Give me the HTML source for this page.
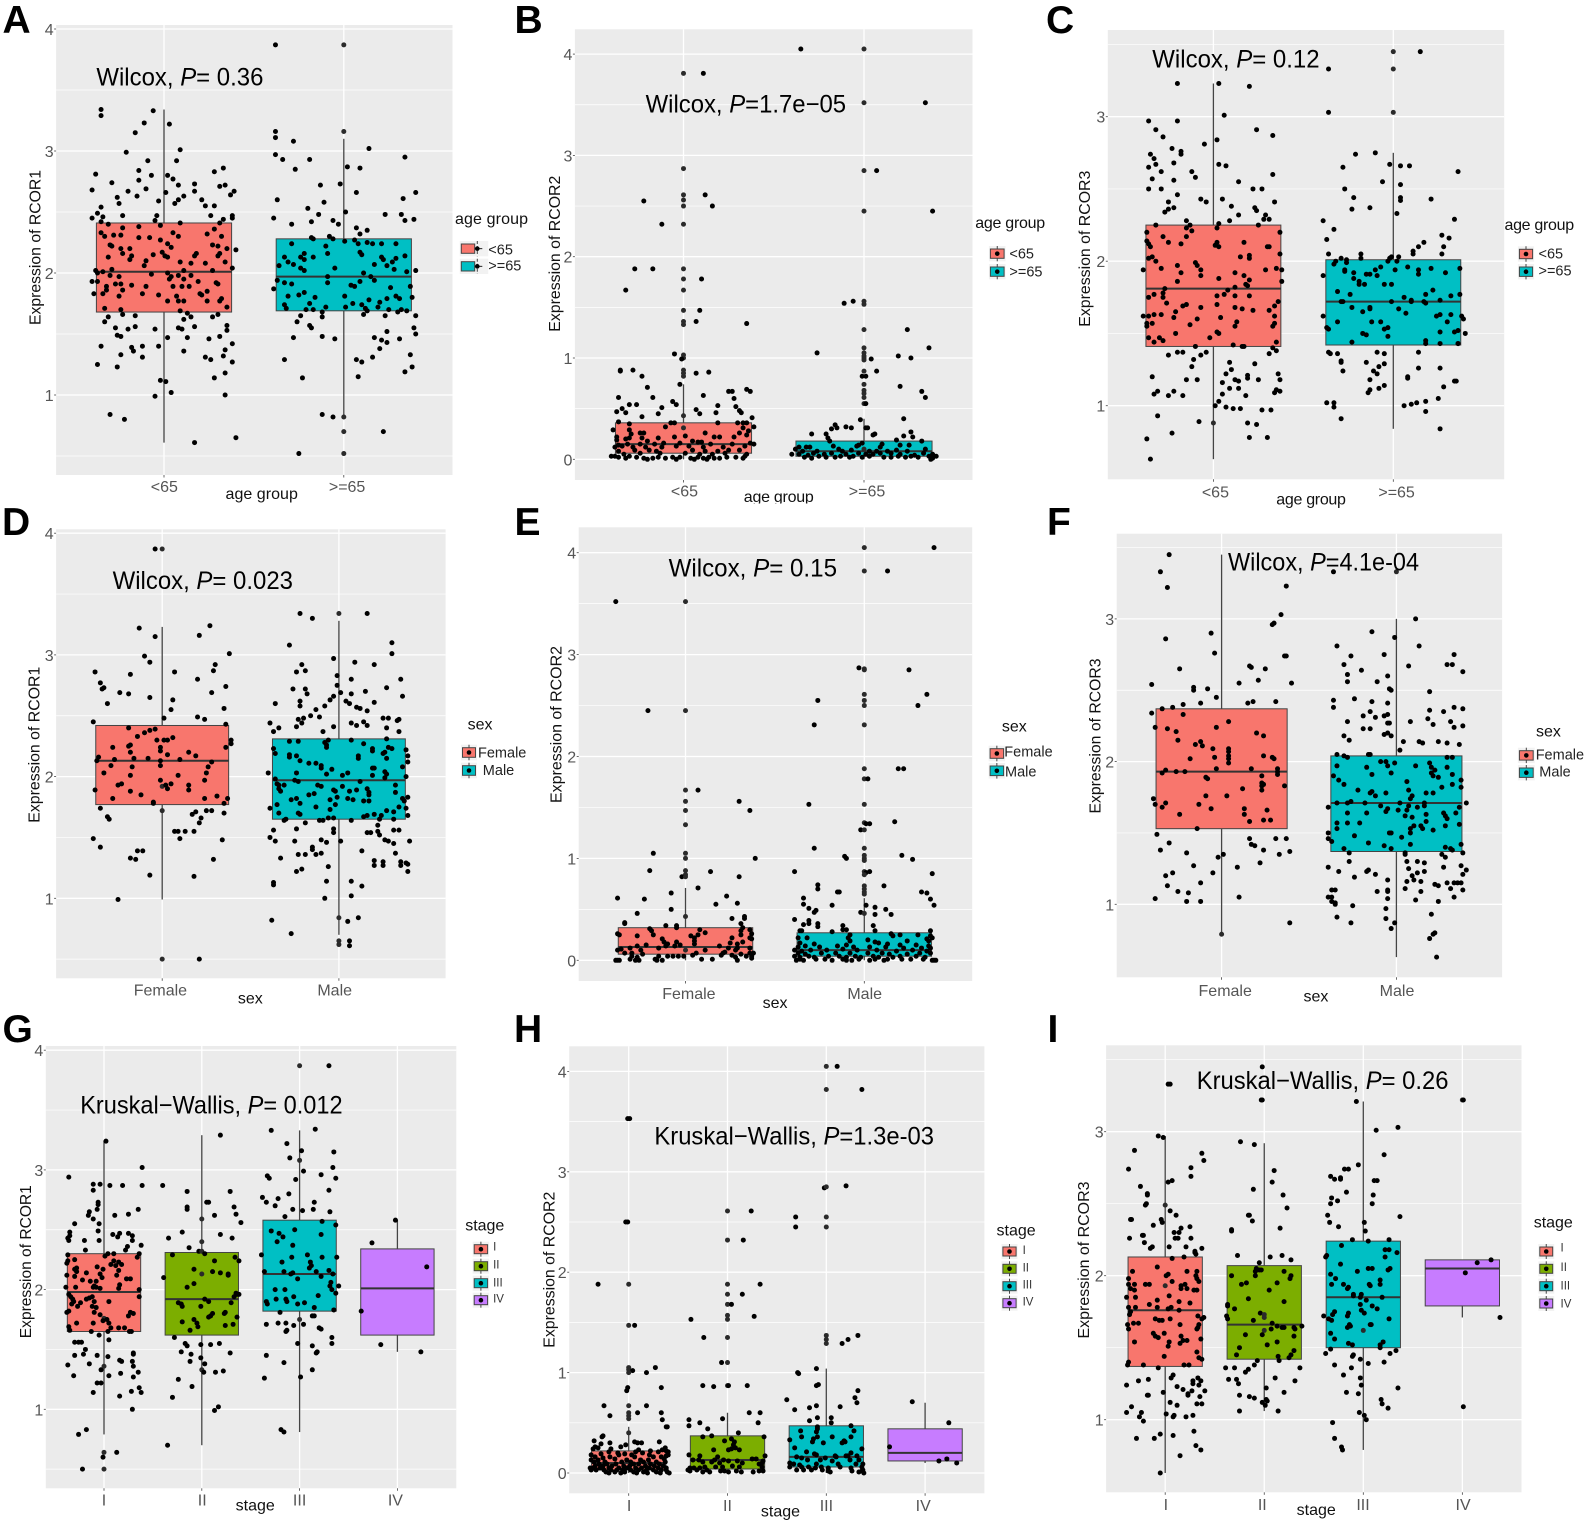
<!DOCTYPE html>
<html lang="en">
<head>
<meta charset="utf-8">
<title>RCOR expression boxplots</title>
<style>
html,body{margin:0;padding:0;background:#fff;}
svg{display:block;font-family:"Liberation Sans",Arial,sans-serif;}
.letter{font-weight:bold;font-size:39px;fill:#000;}
.anno{font-size:25px;fill:#000;}
.axt{font-size:16px;fill:#111;}
.lgt{font-size:16px;fill:#111;}
.lgl{font-size:14.5px;fill:#222;}
.lgs{font-size:11.5px;fill:#333;}
</style>
</head>
<body>
<svg id="figure" xmlns="http://www.w3.org/2000/svg" width="1592" height="1528" viewBox="0 0 1592 1528">
<rect width="1592" height="1528" fill="#fff"/>
<g id="plots"></g>

<g>
<text class="letter" x="2.5" y="33">A</text>
<text class="letter" x="514.5" y="33">B</text>
<text class="letter" x="1046" y="33">C</text>
<text class="letter" x="2" y="535">D</text>
<text class="letter" x="514.5" y="535">E</text>
<text class="letter" x="1047" y="535">F</text>
<text class="letter" x="2.5" y="1042">G</text>
<text class="letter" x="514" y="1042">H</text>
<text class="letter" x="1047.5" y="1042">I</text>
</g>

<g>
<text class="anno" x="96.4" y="85.7" textLength="167" lengthAdjust="spacingAndGlyphs">Wilcox, <tspan font-style="italic">P</tspan>= 0.36</text>
<text class="anno" x="645.6" y="112.7" textLength="200.5" lengthAdjust="spacingAndGlyphs">Wilcox, <tspan font-style="italic">P</tspan>=1.7e−05</text>
<text class="anno" x="1152.3" y="67.3" textLength="167.3" lengthAdjust="spacingAndGlyphs">Wilcox, <tspan font-style="italic">P</tspan>= 0.12</text>
<text class="anno" x="112.6" y="589" textLength="180.4" lengthAdjust="spacingAndGlyphs">Wilcox, <tspan font-style="italic">P</tspan>= 0.023</text>
<text class="anno" x="668.6" y="576.3" textLength="168.4" lengthAdjust="spacingAndGlyphs">Wilcox, <tspan font-style="italic">P</tspan>= 0.15</text>
<text class="anno" x="1228" y="570.3" textLength="191" lengthAdjust="spacingAndGlyphs">Wilcox, <tspan font-style="italic">P</tspan>=4.1e-04</text>
<text class="anno" x="80.2" y="1113.3" textLength="262.4" lengthAdjust="spacingAndGlyphs">Kruskal−Wallis, <tspan font-style="italic">P</tspan>= 0.012</text>
<text class="anno" x="654.4" y="1144.3" textLength="279.6" lengthAdjust="spacingAndGlyphs">Kruskal−Wallis, <tspan font-style="italic">P</tspan>=1.3e-03</text>
<text class="anno" x="1196.7" y="1089" textLength="251.8" lengthAdjust="spacingAndGlyphs">Kruskal−Wallis, <tspan font-style="italic">P</tspan>= 0.26</text>
</g>

<g>
<text class="axt" transform="translate(40.6,247.5) rotate(-90)" text-anchor="middle" textLength="155" lengthAdjust="spacingAndGlyphs">Expression of RCOR1</text>
<text class="axt" transform="translate(559.8,253.7) rotate(-90)" text-anchor="middle" textLength="156" lengthAdjust="spacingAndGlyphs">Expression of RCOR2</text>
<text class="axt" transform="translate(1089.9,248.7) rotate(-90)" text-anchor="middle" textLength="156" lengthAdjust="spacingAndGlyphs">Expression of RCOR3</text>
<text class="axt" transform="translate(39.6,744.7) rotate(-90)" text-anchor="middle" textLength="156" lengthAdjust="spacingAndGlyphs">Expression of RCOR1</text>
<text class="axt" transform="translate(561.4,724.5) rotate(-90)" text-anchor="middle" textLength="157" lengthAdjust="spacingAndGlyphs">Expression of RCOR2</text>
<text class="axt" transform="translate(1100.7,736) rotate(-90)" text-anchor="middle" textLength="155" lengthAdjust="spacingAndGlyphs">Expression of RCOR3</text>
<text class="axt" transform="translate(31,1261.7) rotate(-90)" text-anchor="middle" textLength="153" lengthAdjust="spacingAndGlyphs">Expression of RCOR1</text>
<text class="axt" transform="translate(554.3,1269.7) rotate(-90)" text-anchor="middle" textLength="156" lengthAdjust="spacingAndGlyphs">Expression of RCOR2</text>
<text class="axt" transform="translate(1088.8,1260) rotate(-90)" text-anchor="middle" textLength="157" lengthAdjust="spacingAndGlyphs">Expression of RCOR3</text>
</g>

<g>
<text class="axt" x="261.7" y="499" text-anchor="middle" textLength="72.3" lengthAdjust="spacing">age group</text>
<text class="axt" x="778.8" y="502" text-anchor="middle" textLength="70" lengthAdjust="spacing">age group</text>
<rect x="735" y="503.5" width="90" height="8" fill="#fff"/>
<text class="axt" x="1311.1" y="504.7" text-anchor="middle" textLength="69.6" lengthAdjust="spacing">age group</text>
<text class="axt" x="250.3" y="1003.3" text-anchor="middle">sex</text>
<text class="axt" x="775.1" y="1008" text-anchor="middle">sex</text>
<text class="axt" x="1315.9" y="1001.7" text-anchor="middle">sex</text>
<text class="axt" x="255.2" y="1510.7" text-anchor="middle">stage</text>
<text class="axt" x="780.5" y="1516.7" text-anchor="middle">stage</text>
<text class="axt" x="1316.2" y="1515" text-anchor="middle">stage</text>
</g>

<g>
<text class="lgt" x="455" y="224" textLength="73" lengthAdjust="spacing">age group</text>
<text class="lgt" x="975.2" y="228" textLength="70" lengthAdjust="spacing">age group</text>
<text class="lgt" x="1504.5" y="230" textLength="69.6" lengthAdjust="spacing">age group</text>
<text class="lgt" x="467.6" y="729.3">sex</text>
<text class="lgt" x="1001.9" y="731.3">sex</text>
<text class="lgt" x="1536" y="736.7">sex</text>
<text class="lgt" x="465.2" y="1230.7">stage</text>
<text class="lgt" x="996.5" y="1235.3">stage</text>
<text class="lgt" x="1533.7" y="1227.7">stage</text>
</g>

<g>
<text class="lgl" x="488.3" y="254.3">&lt;65</text>
<text class="lgl" x="488.3" y="270.7">&gt;=65</text>
<text class="lgl" x="1009.4" y="258.3">&lt;65</text>
<text class="lgl" x="1009.4" y="276.3">&gt;=65</text>
<text class="lgl" x="1538.5" y="258.7">&lt;65</text>
<text class="lgl" x="1538.5" y="275.3">&gt;=65</text>
<text class="lgl" x="478" y="757.3">Female</text>
<text class="lgl" x="482.8" y="775">Male</text>
<text class="lgl" x="1004.3" y="756.3">Female</text>
<text class="lgl" x="1005" y="776.7">Male</text>
<text class="lgl" x="1535.7" y="759.3">Female</text>
<text class="lgl" x="1539.3" y="776.7">Male</text>
<text class="lgs" x="493.1" y="1250.3">I</text>
<text class="lgs" x="493.1" y="1268.3">II</text>
<text class="lgs" x="493.1" y="1286.3">III</text>
<text class="lgs" x="493.1" y="1302.7">IV</text>
<text class="lgs" x="1022.6" y="1254">I</text>
<text class="lgs" x="1022.6" y="1271.7">II</text>
<text class="lgs" x="1022.6" y="1288.7">III</text>
<text class="lgs" x="1022.6" y="1305.3">IV</text>
<text class="lgs" x="1560.5" y="1251.7">I</text>
<text class="lgs" x="1560.5" y="1271">II</text>
<text class="lgs" x="1560.5" y="1289.3">III</text>
<text class="lgs" x="1560.5" y="1307.3">IV</text>
</g>
</svg>

<script>
// ---- shared categories and tick labels ----
const categoriesAge = ['<65', '>=65'];
const categoriesSex = ['Female', 'Male'];
const categoriesStage = ['I', 'II', 'III', 'IV'];
const ticksRcor1 = [1, 2, 3, 4];
const ticksRcor2 = [0, 1, 2, 3, 4];
const ticksRcor3 = [1, 2, 3];
const twoColors = ['#F8766D', '#00BFC4'];
const fourColors = ['#F8766D', '#7CAE00', '#00BFC4', '#C77CFF'];

// ---- box statistics, one entry per category ----
const aQ1 = [1.68, 1.69], aMedian = [2.01, 1.97], aQ3 = [2.41, 2.28], aLow = [0.61, 0.82], aHigh = [3.34, 3.10];
const bQ1 = [0.06, 0.03], bMedian = [0.15, 0.08], bQ3 = [0.36, 0.18], bLow = [0, 0], bHigh = [0.74, 0.40];
const cQ1 = [1.41, 1.42], cMedian = [1.81, 1.72], cQ3 = [2.25, 2.01], cLow = [0.63, 0.84], cHigh = [3.23, 2.75];
const dQ1 = [1.77, 1.65], dMedian = [2.13, 1.97], dQ3 = [2.42, 2.31], dLow = [0.99, 0.70], dHigh = [3.23, 3.28];
const eQ1 = [0.06, 0.04], eMedian = [0.13, 0.10], eQ3 = [0.32, 0.27], eLow = [0, 0], eHigh = [0.71, 0.61];
const fQ1 = [1.53, 1.37], fMedian = [1.93, 1.71], fQ3 = [2.37, 2.04], fLow = [0.79, 0.63], fHigh = [3.45, 3.00];
const gQ1 = [1.65, 1.62, 1.82, 1.62], gMedian = [1.98, 1.92, 2.13, 2.01], gQ3 = [2.30, 2.31, 2.58, 2.34], gLow = [0.79, 0.70, 0.81, 1.48], gHigh = [3.24, 3.29, 3.33, 2.58];
const hQ1 = [0.03, 0.04, 0.06, 0.12], hMedian = [0.10, 0.13, 0.16, 0.20], hQ3 = [0.22, 0.37, 0.47, 0.44], hLow = [0, 0, 0, 0.10], hHigh = [0.46, 0.60, 1.04, 0.70];
const iQ1 = [1.37, 1.42, 1.50, 1.79], iMedian = [1.76, 1.66, 1.85, 2.05], iQ3 = [2.13, 2.07, 2.24, 2.11], iLow = [0.63, 1.06, 0.79, 1.71], iHigh = [2.97, 2.92, 3.21, 2.11];

// ---- sample points as [jitter in category units, expression value] ----
const aPoints0 = [[-.35,3.34],[-.35,3.29],[-.06,3.33],[-.11,3.23],[.03,3.22],[-.16,3.15],[-.21,2.99],[.09,3.01],[-.09,2.92],[.07,2.92],[-.14,2.84],[-.38,2.81],[-.07,2.80],[.02,2.80],[.05,2.77],[-.14,2.76],[-.29,2.74],[.08,2.72],[.17,2.73],[-.10,2.69],[-.40,2.68],[-.20,2.67],[.01,2.66],[.17,2.67],[.33,2.86],[.28,2.83],[.34,2.72],[.31,2.71],[.39,2.67],[.37,2.64],[.21,2.60],[-.15,2.63],[-.26,2.62],[.11,2.63],[.08,2.60],[-.03,2.59],[-.25,2.57],[.06,2.57],[-.35,2.54],[.23,2.55],[.28,2.55],[-.37,2.49],[-.23,2.47],[-.40,2.45],[-.34,2.46],[-.04,2.47],[.26,2.47],[.38,2.47],[.38,2.45],[-.05,2.43],[.33,2.44],[.09,2.41],[-.35,2.42],[-.31,2.40],[-.02,2.39],[.31,2.41],[-.14,2.38],[-.23,2.37],[.28,2.36],[-.35,2.33],[.05,2.33],[.24,2.32],[-.28,2.31],[-.24,2.31],[-.33,2.30],[-.14,2.29],[-.08,2.29],[.08,2.30],[.32,2.30],[-.02,2.27],[.02,2.24],[-.30,2.23],[-.29,2.22],[.27,2.23],[.30,2.22],[.35,2.20],[.40,2.19],[-.24,2.20],[-.19,2.20],[.04,2.21],[.18,2.16],[.17,2.14],[.31,2.16],[.30,2.14],[-.23,2.16],[-.06,2.15],[-.01,2.17],[0.005,2.14],[.02,2.13],[-.18,2.14],[-.31,2.13],[-.19,2.11],[-.10,2.10],[.23,2.08],[.34,2.09],[.09,2.09],[-.11,2.06],[.15,2.08],[-.38,2.02],[-.29,2.03],[-.37,2.00],[-.34,2.01],[.11,2.02],[.27,2.02],[.38,2.04],[-.07,1.99],[.02,2.00],[.15,1.98],[-.25,1.97],[-.30,1.98],[.04,1.97],[.08,1.98],[-.40,1.93],[-.37,1.93],[-.27,1.91],[-.24,1.91],[.03,1.95],[.11,1.95],[.19,1.93],[.29,1.92],[.30,1.91],[-.18,1.90],[-.10,1.89],[-.32,1.89],[-.32,1.86],[-.23,1.86],[.05,1.89],[.10,1.89],[.14,1.89],[.24,1.85],[-.39,1.83],[-.34,1.83],[-.12,1.83],[-.03,1.82],[.20,1.83],[.07,1.81],[-.25,1.81],[.21,1.82],[.31,1.77],[.32,1.79],[.02,1.77],[.08,1.77],[.11,1.77],[.24,1.77],[-.33,1.71],[-.24,1.70],[.35,1.72],[.09,1.69],[.13,1.67],[.30,1.66],[-.23,1.66],[-.16,1.65],[-.31,1.64],[.15,1.64],[.27,1.64],[.11,1.62],[-.33,1.60],[.35,1.57],[.17,1.56],[-.27,1.55],[-.16,1.56],[-.20,1.54],[.08,1.55],[.10,1.54],[-.05,1.54],[.35,1.53],[-.26,1.49],[-.24,1.48],[.02,1.47],[.13,1.47],[.31,1.48],[.25,1.46],[-.35,1.40],[-.03,1.40],[.38,1.42],[-.18,1.39],[-.12,1.40],[-.17,1.36],[.11,1.36],[.34,1.37],[-.24,1.33],[-.12,1.31],[.33,1.32],[.23,1.31],[.26,1.29],[.38,1.27],[-.37,1.25],[-.26,1.23],[.34,1.18],[.28,1.14],[-.02,1.12],[.01,1.11],[.04,1.02],[.34,1.00],[-.05,.99],[-.30,.84],[-.22,.80],[.17,.61],[.40,.65]];
const aPoints1 = [[-.38,3.87],[0,3.87],[0,3.16],[-.38,3.16],[-.38,3.11],[-.28,3.08],[-.38,2.97],[-.34,2.93],[-.19,2.93],[.14,3.02],[.34,2.95],[.02,2.87],[.09,2.86],[-.27,2.85],[-.13,2.72],[-.02,2.73],[.07,2.66],[.40,2.66],[.33,2.61],[-.37,2.60],[-.11,2.58],[-.20,2.53],[.01,2.50],[-.14,2.48],[.23,2.48],[.32,2.48],[-.39,2.45],[-.18,2.42],[-.06,2.43],[.34,2.43],[.39,2.44],[-.29,2.40],[-.03,2.40],[.07,2.37],[.13,2.35],[.09,2.32],[-.08,2.30],[-.18,2.29],[-.17,2.28],[-.06,2.28],[0.005,2.26],[.06,2.27],[.13,2.25],[.16,2.24],[-.29,2.24],[.21,2.24],[.29,2.24],[-.10,2.22],[.08,2.24],[-.09,2.16],[.09,2.17],[.10,2.15],[-.22,2.16],[-.24,2.13],[-.17,2.13],[.34,2.14],[-.33,2.13],[.21,2.13],[-.22,2.11],[.29,2.12],[.22,2.11],[-.31,2.09],[.27,2.09],[-.28,2.07],[.17,2.07],[-.36,2.06],[.24,2.06],[-.24,2.04],[-.22,2.02],[-.05,2.04],[.28,2.03],[.35,2.01],[.40,2.02],[.11,2.00],[-.09,1.97],[.15,1.97],[-.37,1.94],[-.33,1.92],[-.09,1.92],[-.29,1.91],[.17,1.94],[.09,1.93],[.04,1.90],[.06,1.89],[.37,1.89],[-.39,1.87],[.26,1.88],[-.22,1.84],[-.25,1.82],[-.31,1.81],[.005,1.81],[.29,1.81],[.38,1.80],[-.16,1.80],[.31,1.79],[.24,1.79],[.01,1.72],[.14,1.78],[-.19,1.75],[.20,1.76],[.05,1.75],[.10,1.74],[-.33,1.74],[.19,1.72],[-.32,1.71],[-.21,1.70],[-.17,1.70],[-.10,1.72],[.12,1.71],[.13,1.69],[.25,1.70],[.30,1.68],[.32,1.70],[.35,1.69],[-.12,1.68],[-.24,1.65],[.11,1.66],[.23,1.65],[-.12,1.64],[.40,1.65],[-.26,1.60],[-.19,1.57],[-.18,1.55],[.39,1.55],[.24,1.52],[.40,1.50],[-.12,1.48],[-.28,1.47],[-.05,1.46],[.17,1.47],[.31,1.46],[.21,1.45],[.24,1.43],[.20,1.38],[.16,1.31],[.37,1.33],[-.33,1.29],[.07,1.29],[.10,1.27],[.38,1.23],[.34,1.19],[-.23,1.14],[.08,1.15],[-.12,.84],[-.06,.82],[0,.82],[0,.70],[.22,.70],[-.25,.52],[0,.52]];

const bPoints0 = [[0,3.81],[.11,3.81],[0,2.87],[0,2.61],[.12,2.61],[0,2.56],[-.22,2.55],[0,2.50],[.16,2.50],[0,2.32],[-.12,2.32],[0,1.88],[-.27,1.88],[-.17,1.88],[0,1.78],[.10,1.78],[-.32,1.67],[0,1.67],[0,1.47],[.09,1.47],[.07,1.36],[0,1.36],[0,1.33],[.35,1.34],[-.05,1.04],[0,1.03],[0,1.00],[-.01,.99],[-.35,.88],[-.35,.87],[-.28,.88],[0,.88],[0,.85],[.07,.85],[.14,.86],[-.23,.82],[0,.82],[-.02,.74],[-.20,.71],[.35,.69],[.37,.67],[.25,.67],[.27,.67],[.11,.63],[-.36,.61],[-.17,.61],[.28,.60],[-.06,.57],[-.04,.54],[-.30,.54],[-.26,.54],[.19,.53],[-.12,.51],[.29,.52],[.07,.49],[.31,.48],[-.34,.50],[-.37,.47],[-.32,.46],[-.14,.45],[.09,.45],[.18,.46],[.32,.46],[-.23,.42],[0,.43],[.38,.41],[-.36,.37],[.19,.36],[.30,.36],[.33,.36],[.35,.36],[-.07,.36],[-.05,.36],[-.30,.35],[.39,.32],[-.10,.32],[0,.31],[.33,.31],[-.39,.29],[-.30,.29],[.36,.28],[-.22,.26],[.12,.26],[-.29,.25],[-.24,.26],[.31,.26],[.35,.24],[-.37,.22],[.01,.23],[.17,.22],[.20,.22],[.28,.22],[-.30,.21],[-.23,.21],[-.14,.21],[-.05,.22],[-.37,.19],[-.32,.20],[-.20,.18],[.05,.18],[.08,.17],[.10,.17],[-.11,.16],[-.02,.16],[-.36,.14],[-.31,.15],[-.24,.15],[-.16,.15],[.15,.15],[.27,.15],[.37,.16],[.39,.15],[-.38,.12],[-.34,.13],[-.28,.12],[-.21,.12],[-.12,.12],[-.04,.13],[.03,.13],[.11,.12],[.22,.12],[.34,.13],[-.36,.08],[-.27,.09],[-.19,.09],[-.15,.08],[.05,.09],[.12,.08],[.19,.08],[.25,.09],[.31,.09],[-.33,.05],[-.24,.06],[-.13,.06],[.01,.06],[.09,.05],[.16,.05],[.23,.06],[.35,.05],[-.40,.03],[-.38,.03],[-.36,.02],[-.32,.01],[-.30,.03],[-.26,.02],[-.22,.01],[-.20,0],[-.17,.01],[-.14,.02],[-.10,.01],[-.06,.02],[-.02,.02],[.04,.01],[.08,.02],[.11,.01],[.14,.02],[.17,.01],[.20,.01],[.24,.02],[.29,.02],[.33,.01],[.34,.03],[.06,.0],[-.04,.0],[.13,.0]];
const bPoints1 = [[-.35,4.05],[0,4.05],[0,3.52],[.34,3.52],[0,2.85],[.07,2.85],[0,2.45],[.38,2.45],[-.11,1.54],[-.06,1.56],[0,1.56],[0,1.53],[0,1.28],[.24,1.28],[0,1.10],[.36,1.10],[-.26,1.05],[0,1.05],[0,1.02],[.19,1.02],[0,1.00],[.26,1.00],[0,.98],[.04,.99],[0,.87],[.07,.87],[-.01,.82],[.01,.82],[0,.74],[.20,.72],[0,.68],[.32,.67],[0,.65],[0,.61],[.34,.61],[0,.55],[.01,.55],[-.02,.39],[.22,.40],[-.16,.34],[-.10,.32],[-.15,.31],[-.07,.31],[-.18,.30],[.01,.31],[.02,.31],[.26,.27],[-.21,.25],[-.29,.25],[.05,.24],[.06,.25],[.22,.23],[.27,.22],[-.20,.21],[.18,.19],[-.19,.18],[.32,.18],[-.03,.14],[-.01,.16],[.10,.15],[.20,.14],[.25,.14],[-.17,.13],[-.36,.12],[-.32,.12],[-.30,.12],[-.04,.13],[.09,.12],[-.38,.10],[-.34,.08],[-.26,.08],[-.14,.10],[-.12,.08],[-.07,.09],[0,.10],[.03,.08],[.07,.08],[.13,.08],[.18,.09],[.24,.08],[.34,.10],[-.40,.05],[-.36,.05],[-.31,.04],[-.28,.06],[-.22,.05],[-.18,.06],[-.10,.05],[-.03,.06],[.01,.05],[.05,.05],[.09,.06],[.15,.06],[.20,.05],[.28,.04],[.33,.06],[.38,.05],[-.33,.02],[-.29,.01],[-.25,.03],[-.21,.02],[-.16,.02],[-.13,.03],[-.08,.02],[-.06,.03],[-.01,.02],[.03,.03],[.11,.02],[.15,.02],[.19,.03],[.23,.02],[.26,.03],[.30,.02],[.36,.03],[.38,.01],[.40,.03],[.37,0]];

const cPoints0 = [[-.36,2.97],[-.20,3.23],[.03,3.23],[.20,3.21],[.06,3.01],[-.20,2.97],[-.32,2.91],[-.28,2.86],[.24,2.91],[.33,2.87],[-.05,2.81],[.02,2.84],[-.23,2.78],[-.18,2.76],[-.35,2.74],[-.33,2.71],[-.18,2.74],[-.32,2.67],[-.22,2.68],[.03,2.67],[.07,2.66],[-.36,2.65],[-.29,2.62],[-.12,2.62],[.33,2.60],[-.34,2.57],[-.22,2.56],[-.10,2.58],[.14,2.55],[-.36,2.50],[-.29,2.50],[.22,2.50],[.27,2.50],[-.20,2.46],[-.07,2.43],[-.04,2.41],[.05,2.43],[.34,2.41],[-.25,2.41],[.10,2.38],[.23,2.37],[.24,2.35],[-.25,2.36],[-.22,2.37],[-.27,2.34],[.14,2.32],[.29,2.32],[.28,2.29],[.09,2.28],[-.15,2.28],[-.13,2.25],[.31,2.29],[.25,2.25],[.03,2.26],[.02,2.23],[-.32,2.25],[-.15,2.23],[-.12,2.21],[.37,2.20],[-.37,2.20],[-.15,2.17],[-.28,2.17],[.02,2.13],[-.37,2.14],[-.36,2.12],[-.18,2.12],[-.25,2.13],[.01,2.11],[.03,2.10],[.17,2.13],[.30,2.10],[.31,2.10],[-.35,2.10],[.37,2.05],[-.34,2.03],[-.36,2.02],[.15,2.03],[.20,2.04],[.20,2.02],[-.32,2.00],[-.10,1.99],[-.20,1.97],[-.09,1.97],[-.39,1.94],[-.29,1.95],[-.07,1.94],[.29,1.94],[.35,1.95],[.38,1.94],[-.18,1.92],[-.07,1.90],[.12,1.92],[.17,1.90],[.20,1.87],[.03,1.88],[-.20,1.86],[.38,1.86],[.18,1.84],[.19,1.83],[.12,1.82],[-.27,1.81],[.08,1.80],[-.33,1.77],[-.28,1.78],[-.36,1.75],[.06,1.77],[.12,1.76],[.02,1.76],[.20,1.76],[-.28,1.75],[.36,1.72],[-.26,1.71],[-.15,1.70],[.02,1.70],[.34,1.69],[-.07,1.68],[-.17,1.69],[.12,1.68],[-.39,1.62],[-.36,1.62],[-.33,1.63],[-.29,1.63],[-.21,1.65],[.16,1.67],[.22,1.66],[.31,1.66],[-.22,1.61],[.04,1.61],[.34,1.62],[-.37,1.57],[-.34,1.57],[-.09,1.60],[.13,1.58],[.34,1.57],[-.37,1.55],[-.13,1.56],[.12,1.55],[.33,1.55],[.02,1.51],[-.21,1.50],[-.02,1.47],[.03,1.50],[-.33,1.44],[-.36,1.47],[-.30,1.47],[-.28,1.45],[.11,1.42],[.16,1.41],[.17,1.41],[.35,1.44],[.33,1.40],[-.10,1.41],[-.20,1.37],[-.17,1.37],[-.04,1.37],[.35,1.38],[.31,1.36],[-.25,1.35],[-.07,1.35],[-.11,1.32],[.09,1.30],[.23,1.29],[-.12,1.27],[.10,1.25],[.36,1.22],[.07,1.22],[.19,1.21],[-.34,1.20],[-.15,1.18],[-.09,1.18],[.12,1.18],[.19,1.19],[.37,1.18],[.05,1.16],[.14,1.17],[.25,1.18],[-.31,1.10],[-.22,1.10],[.09,1.12],[.14,1.12],[-.33,1.08],[-.17,1.07],[-.25,1.07],[.05,1.08],[.18,1.07],[.35,1.11],[.37,1.10],[.34,1.09],[.03,1.03],[.07,.99],[.11,.98],[.15,.98],[.27,.97],[.32,.97],[.01,1.0],[-.31,.93],[-.08,.89],[0,.88],[.19,.88],[.24,.87],[-.23,.81],[-.37,.77],[.20,.78],[.30,.78],[-.35,.63]];
const cPoints1 = [[0,3.45],[.15,3.45],[-.36,3.33],[0,3.33],[-.36,3.03],[0,3.03],[-.21,2.74],[-.10,2.75],[-.02,2.67],[.04,2.66],[.09,2.66],[-.28,2.65],[.36,2.62],[-.27,2.50],[-.06,2.55],[.04,2.53],[.04,2.44],[-.22,2.44],[.04,2.42],[.21,2.43],[-.13,2.37],[-.23,2.36],[.02,2.33],[-.39,2.28],[.34,2.29],[-.33,2.22],[.27,2.18],[.31,2.16],[-.37,2.15],[.17,2.13],[.28,2.10],[.14,2.10],[.11,2.07],[-.36,2.05],[-.18,2.05],[.11,2.05],[.27,2.05],[-.02,2.02],[-.01,2.03],[.03,2.03],[-.29,2.02],[-.32,2.00],[-.26,2.01],[-.18,2.02],[-.03,2.00],[.02,2.00],[-.26,1.99],[-.33,1.98],[-.07,1.96],[-.27,1.94],[-.10,1.94],[.01,1.94],[.08,1.96],[.21,1.95],[.14,1.94],[.37,1.95],[-.22,1.92],[-.27,1.93],[-.15,1.91],[-.13,1.91],[-.09,1.90],[.14,1.91],[.29,1.92],[-.39,1.90],[-.22,1.88],[-.19,1.86],[-.19,1.84],[-.16,1.84],[-.05,1.84],[-.01,1.84],[-.31,1.79],[.22,1.80],[-.24,1.77],[.06,1.75],[.18,1.77],[.32,1.76],[.37,1.77],[.10,1.73],[-.28,1.72],[-.29,1.72],[-.01,1.72],[.10,1.72],[.17,1.72],[.26,1.73],[.18,1.71],[-.23,1.68],[-.13,1.68],[-.13,1.67],[.03,1.67],[-.17,1.65],[.07,1.64],[.26,1.63],[.32,1.63],[.38,1.62],[.39,1.60],[-.39,1.62],[-.31,1.58],[-.12,1.58],[-.07,1.58],[.24,1.62],[.30,1.58],[-.03,1.54],[-.05,1.53],[-.37,1.54],[-.36,1.53],[.26,1.51],[-.17,1.50],[-.15,1.49],[-.03,1.48],[.34,1.51],[.40,1.50],[.36,1.52],[-.23,1.44],[.18,1.45],[.36,1.43],[.18,1.43],[.26,1.43],[.36,1.43],[-.36,1.37],[-.35,1.36],[-.31,1.36],[-.09,1.37],[-.05,1.36],[.14,1.37],[-.29,1.31],[-.15,1.30],[-.29,1.30],[-.05,1.29],[-.08,1.27],[.14,1.26],[.26,1.26],[-.28,1.24],[-.11,1.24],[-.09,1.22],[.08,1.20],[.08,1.19],[-.13,1.18],[.34,1.17],[.35,1.17],[-.13,1.11],[-.08,1.12],[.28,1.13],[-.14,1.09],[-.05,1.14],[-.37,1.02],[-.33,1.02],[-.33,.99],[.25,1.05],[.18,1.03],[.13,1.02],[.10,1.01],[.06,1.0],[.18,.96],[-.29,.91],[.26,.84]];

const dPoints0 = [[-.04,3.87],[0,3.87],[-.13,3.22],[.27,3.24],[-.04,3.15],[.21,3.16],[-.10,2.99],[.38,3.01],[-.07,2.94],[.30,2.92],[-.38,2.86],[.07,2.86],[.29,2.87],[-.18,2.84],[.20,2.80],[-.35,2.77],[-.33,2.73],[-.34,2.72],[.36,2.74],[-.24,2.69],[-.19,2.68],[.28,2.69],[-.07,2.65],[.06,2.63],[-.31,2.60],[.05,2.55],[.35,2.56],[.20,2.49],[.01,2.48],[.24,2.47],[-.39,2.45],[.36,2.43],[-.19,2.40],[-.04,2.39],[-.07,2.38],[-.10,2.36],[-.14,2.33],[-.03,2.30],[.01,2.30],[.03,2.30],[.06,2.32],[.39,2.30],[.39,2.27],[-.19,2.25],[-.18,2.26],[-.28,2.24],[-.01,2.24],[.36,2.24],[-.01,2.21],[-.18,2.20],[.15,2.20],[.03,2.18],[.19,2.17],[-.36,2.16],[-.37,2.13],[-.27,2.14],[-.16,2.15],[-.08,2.15],[-.01,2.13],[.10,2.14],[.28,2.12],[-.29,2.09],[-.17,2.08],[-.01,2.09],[.26,2.08],[-.33,2.03],[-.18,2.01],[.09,2.01],[.25,2.03],[-.01,1.97],[.24,1.97],[-.25,1.93],[-.23,1.94],[0,1.92],[.02,1.93],[.05,1.94],[.03,1.90],[.15,1.93],[.15,1.89],[-.38,1.89],[-.18,1.88],[-.12,1.85],[.31,1.84],[-.28,1.82],[.24,1.82],[.37,1.82],[-.05,1.79],[-.05,1.78],[.35,1.78],[-.35,1.74],[.0,1.72],[.19,1.71],[.25,1.72],[.28,1.72],[.17,1.69],[.35,1.70],[-.31,1.67],[-.30,1.65],[.22,1.66],[.21,1.62],[.07,1.55],[.09,1.55],[.13,1.55],[.18,1.55],[-.39,1.49],[.10,1.49],[.34,1.48],[-.35,1.42],[-.14,1.39],[-.11,1.39],[-.18,1.33],[-.15,1.32],[.29,1.32],[-.07,1.19],[.18,1.18],[-.25,.99],[0,.50],[.21,.50]];
const dPoints1 = [[-.22,3.34],[0,3.34],[.16,3.34],[-.15,3.30],[.30,3.10],[-.28,3.08],[.30,3.01],[-.03,2.97],[.09,2.94],[-.21,2.92],[.20,2.92],[-.24,2.86],[-.19,2.87],[-.01,2.83],[.07,2.80],[.35,2.80],[-.01,2.75],[.27,2.73],[-.26,2.72],[-.19,2.72],[.15,2.70],[-.18,2.68],[.07,2.68],[.01,2.69],[-.03,2.66],[-.05,2.63],[.36,2.66],[-.36,2.60],[-.22,2.62],[.04,2.62],[.06,2.60],[.20,2.61],[-.22,2.58],[-.08,2.58],[.10,2.57],[.12,2.56],[.16,2.54],[-.13,2.55],[-.16,2.50],[-.11,2.49],[-.23,2.47],[-.20,2.48],[.25,2.48],[.28,2.48],[.34,2.47],[.33,2.46],[-.39,2.44],[-.21,2.44],[.07,2.44],[.14,2.45],[.10,2.42],[.16,2.42],[-.37,2.37],[-.34,2.40],[-.24,2.41],[-.03,2.41],[.27,2.40],[-.09,2.37],[.34,2.37],[.07,2.30],[.27,2.31],[-.28,2.29],[-.23,2.29],[-.06,2.30],[-.08,2.28],[.14,2.27],[-.07,2.26],[.28,2.24],[-.07,2.24],[.19,2.23],[.30,2.23],[-.37,2.23],[.38,2.22],[.19,2.21],[.26,2.20],[-.36,2.19],[.25,2.19],[-.28,2.18],[-.24,2.17],[-.28,2.16],[.11,2.17],[.39,2.17],[.11,2.15],[-.22,2.13],[.27,2.15],[-.17,2.11],[-.13,2.11],[-.10,2.09],[.39,2.12],[-.10,2.07],[.19,2.07],[.20,2.07],[.36,2.08],[-.04,2.06],[.26,2.04],[.27,2.02],[.05,2.03],[-.24,2.03],[-.40,2.03],[.02,2.01],[.19,2.01],[-.07,2.02],[.26,1.99],[-.36,1.98],[.38,2.00],[-.25,1.97],[-.23,1.96],[.12,1.96],[-.35,1.94],[-.34,1.93],[-.31,1.93],[-.12,1.93],[-.10,1.92],[.02,1.92],[.16,1.90],[.32,1.93],[-.34,1.90],[-.33,1.88],[-.02,1.88],[-.03,1.89],[.06,1.88],[.10,1.89],[.17,1.87],[-.14,1.86],[.17,1.85],[.32,1.87],[-.17,1.85],[-.01,1.83],[-.05,1.81],[.36,1.82],[.39,1.83],[-.27,1.81],[-.24,1.82],[.05,1.82],[.08,1.81],[.14,1.80],[.17,1.80],[.37,1.80],[-.35,1.77],[-.22,1.78],[-.02,1.77],[-.13,1.75],[.34,1.75],[.38,1.74],[-.39,1.74],[.27,1.72],[-.05,1.73],[-.23,1.70],[-.22,1.69],[-.34,1.70],[.31,1.71],[.14,1.67],[.16,1.68],[.20,1.69],[.24,1.68],[.39,1.68],[-.06,1.66],[-.03,1.66],[.23,1.65],[.31,1.65],[-.30,1.65],[-.31,1.64],[-.11,1.64],[-.09,1.64],[.07,1.64],[-.19,1.62],[.22,1.60],[-.24,1.57],[-.37,1.56],[-.03,1.57],[.16,1.54],[.18,1.54],[.22,1.55],[.31,1.56],[.34,1.56],[-.03,1.54],[.23,1.52],[-.39,1.50],[-.25,1.47],[.01,1.47],[.26,1.48],[.28,1.47],[.31,1.45],[-.36,1.47],[-.07,1.46],[-.10,1.48],[.40,1.47],[.13,1.39],[-.15,1.42],[-.15,1.40],[-.19,1.36],[-.23,1.36],[-.13,1.36],[.32,1.37],[-.10,1.37],[-.33,1.33],[.20,1.31],[.25,1.30],[.25,1.27],[.20,1.27],[.35,1.30],[.39,1.28],[.38,1.29],[.35,1.27],[-.06,1.26],[-.21,1.24],[-.24,1.22],[.39,1.22],[-.07,1.14],[.07,1.14],[-.37,1.13],[-.37,1.11],[.13,1.10],[.07,1.02],[-.08,1.0],[.0,.84],[.05,.81],[.11,.84],[-.38,.82],[-.27,.71],[0,.65],[0,.62],[.06,.65],[.06,.61]];

const ePoints0 = [[-.39,3.52],[0,3.52],[-.21,2.45],[0,2.45],[0,1.67],[.07,1.67],[0,1.56],[.30,1.56],[0,1.47],[.36,1.47],[0,1.33],[-.18,1.05],[0,1.05],[0,1.00],[.39,1.00],[-.20,.88],[0,.88],[.14,.87],[0,.84],[-.02,.82],[0,.82],[.30,.82],[.07,.71],[-.08,.66],[.23,.63],[-.38,.61],[-.23,.60],[.29,.56],[.17,.55],[-.08,.50],[-.27,.46],[0,.43],[.33,.43],[.33,.41],[.26,.41],[-.34,.37],[-.34,.36],[.31,.36],[-.11,.34],[-.05,.34],[-.05,.32],[-.20,.31],[.32,.32],[.08,.30],[-.19,.29],[.31,.29],[.36,.30],[.37,.26],[-.38,.26],[-.37,.25],[.11,.27],[.07,.25],[-.18,.25],[.03,.24],[.31,.25],[-.27,.24],[.05,.22],[.26,.22],[.36,.22],[.37,.21],[-.13,.21],[-.12,.18],[.32,.18],[-.05,.18],[-.03,.15],[.05,.19],[.25,.17],[.29,.16],[-.10,.16],[-.11,.14],[-.06,.14],[.05,.16],[-.27,.14],[-.22,.15],[.19,.14],[.24,.12],[.29,.12],[.36,.12],[-.38,.10],[-.36,.11],[-.31,.12],[-.25,.10],[-.15,.12],[.0,.10],[.11,.10],[.22,.08],[.28,.10],[-.34,.07],[-.30,.07],[-.24,.06],[.06,.07],[.21,.07],[.31,.06],[.36,.07],[.38,.07],[-.30,.04],[-.27,.03],[-.15,.04],[-.10,.04],[-.07,.04],[-.04,.04],[-.01,.04],[.04,.05],[.20,.05],[.26,.05],[.34,.04],[.37,.04],[.37,.02],[-.39,.0],[-.38,0],[-.37,0],[-.31,.01],[-.28,.0],[-.26,0],[-.17,.01],[-.16,0],[-.13,.0],[.09,.01],[.15,.01],[.28,.03],[.29,0]];
const ePoints1 = [[0,4.05],[.39,4.05],[0,3.82],[.13,3.82],[-.03,2.87],[0,2.86],[0,2.85],[.25,2.85],[0,2.61],[.35,2.61],[0,2.55],[-.26,2.55],[0,2.50],[.30,2.50],[-.28,2.31],[0,2.31],[0,1.88],[.19,1.88],[.22,1.88],[0,1.78],[.02,1.78],[-.31,1.53],[0,1.53],[0,1.35],[.01,1.34],[.03,1.34],[.17,1.36],[-.02,1.28],[0,1.28],[-.28,1.10],[0,1.10],[-.11,1.02],[-.10,1.00],[0,1.03],[.21,1.03],[0,1.00],[0,.98],[.27,.99],[-.39,.87],[0,.87],[.01,.86],[.03,.87],[.38,.85],[0,.84],[-.26,.74],[.11,.73],[0,.73],[-.26,.70],[0,.70],[0,.67],[-.15,.67],[-.14,.67],[0,.65],[.32,.67],[.35,.66],[.37,.60],[-.34,.61],[.01,.54],[-.34,.55],[-.18,.54],[.39,.54],[-.31,.51],[.06,.52],[.12,.50],[-.27,.49],[-.28,.47],[-.02,.47],[0,.46],[.06,.45],[.15,.45],[-.39,.40],[-.31,.39],[-.31,.36],[-.26,.36],[-.34,.35],[-.26,.33],[.05,.34],[-.12,.34],[-.12,.30],[-.10,.30],[-.36,.29],[-.35,.29],[.06,.29],[.37,.29],[-.18,.28],[.15,.26],[-.08,.25],[.16,.24],[.20,.25],[.30,.25],[-.37,.22],[-.32,.22],[.37,.24],[.38,.22],[-.09,.22],[.02,.20],[-.08,.19],[.06,.18],[.24,.19],[.35,.21],[.36,.19],[.08,.17],[.13,.16],[-.36,.17],[-.28,.16],[-.10,.15],[.20,.15],[.29,.15],[.36,.14],[-.37,.13],[-.33,.14],[-.25,.13],[-.15,.14],[-.06,.13],[.03,.13],[.12,.13],[.22,.12],[.32,.12],[.37,.12],[-.39,.10],[-.35,.09],[-.30,.10],[-.21,.10],[-.12,.11],[-.04,.10],[.07,.10],[.18,.09],[.27,.10],[.35,.09],[-.37,.07],[-.33,.06],[-.24,.07],[-.16,.07],[-.08,.07],[.02,.07],[.10,.07],[.14,.06],[.24,.06],[.31,.07],[.37,.07],[-.39,.04],[-.36,.03],[-.31,.04],[-.28,.03],[-.20,.04],[-.14,.04],[-.10,.03],[-.05,.04],[-.02,.03],[.05,.04],[.08,.03],[.16,.03],[.20,.04],[.29,.04],[.34,.03],[-.38,.0],[-.36,.01],[-.34,0],[-.27,.01],[-.22,.01],[-.18,0],[-.12,.01],[-.10,0],[-.07,0],[-.03,.01],[.03,.0],[.06,.01],[.11,0],[.13,.01],[.21,.01],[.26,.01],[.33,.01],[.38,.0],[.39,.0],[.40,.0]];

const fPoints0 = [[-.30,3.45],[-.35,3.33],[-.31,3.22],[.37,3.23],[.34,3.03],[.29,2.96],[.30,2.97],[-.06,2.90],[-.32,2.86],[-.04,2.76],[.36,2.74],[.37,2.74],[-.24,2.65],[.16,2.67],[.17,2.66],[.25,2.65],[-.40,2.54],[.10,2.55],[.21,2.57],[.40,2.55],[-.16,2.52],[-.16,2.50],[-.08,2.51],[-.03,2.45],[.18,2.42],[.15,2.41],[.31,2.42],[-.12,2.41],[-.22,2.40],[-.34,2.37],[-.28,2.38],[-.40,2.34],[-.22,2.33],[.04,2.28],[-.38,2.24],[-.31,2.23],[-.03,2.24],[-.26,2.21],[.20,2.20],[.24,2.18],[-.25,2.15],[-.12,2.14],[-.15,2.12],[-.11,2.11],[-.05,2.09],[.04,2.09],[.04,2.07],[.04,2.04],[.04,2.02],[.24,2.04],[.29,2.03],[.30,2.02],[-.18,2.02],[-.04,2.03],[.04,1.99],[.17,1.95],[.32,1.95],[.32,1.93],[-.32,1.94],[-.26,1.93],[-.21,1.93],[-.03,1.95],[.32,1.91],[-.34,1.92],[.23,1.90],[-.09,1.89],[-.08,1.88],[.23,1.85],[.24,1.84],[.36,1.83],[.12,1.81],[.23,1.83],[.23,1.80],[.03,1.76],[-.09,1.76],[-.39,1.74],[-.38,1.70],[-.32,1.71],[-.13,1.70],[-.34,1.68],[-.06,1.67],[.13,1.67],[.26,1.66],[.13,1.63],[-.24,1.63],[.16,1.58],[.24,1.59],[.28,1.59],[-.14,1.53],[-.37,1.49],[.16,1.46],[.31,1.46],[.37,1.46],[-.30,1.43],[.17,1.42],[.19,1.41],[-.35,1.38],[.24,1.38],[.39,1.37],[-.20,1.36],[.33,1.35],[.01,1.35],[-.02,1.33],[.22,1.29],[-.16,1.27],[.09,1.26],[-.32,1.20],[-.28,1.22],[-.05,1.22],[-.12,1.15],[-.31,1.13],[-.25,1.09],[-.19,1.08],[-.38,1.04],[.10,1.05],[-.20,1.02],[-.12,1.02],[.39,.87],[0,.79]];
const fPoints1 = [[-.36,3.33],[0,3.33],[.11,3.00],[-.14,2.91],[-.01,2.87],[.13,2.81],[-.34,2.81],[.33,2.75],[-.26,2.74],[-.07,2.75],[-.30,2.68],[.07,2.67],[.29,2.68],[.32,2.68],[-.20,2.64],[.38,2.63],[-.28,2.61],[-.05,2.60],[-.28,2.56],[-.11,2.56],[-.04,2.51],[-.03,2.50],[.19,2.49],[-.36,2.43],[-.24,2.44],[-.14,2.42],[-.05,2.41],[-.36,2.38],[.19,2.36],[.33,2.38],[.38,2.37],[-.15,2.35],[.27,2.35],[-.19,2.32],[-.07,2.32],[-.05,2.33],[-.12,2.31],[.18,2.30],[-.28,2.28],[.08,2.28],[.31,2.28],[-.05,2.27],[-.04,2.27],[.21,2.26],[-.19,2.23],[-.15,2.23],[.33,2.24],[.38,2.25],[-.05,2.20],[-.07,2.19],[-.03,2.18],[-.30,2.18],[-.27,2.15],[.04,2.14],[.13,2.14],[.15,2.13],[.24,2.14],[.29,2.13],[.36,2.12],[.02,2.08],[-.34,2.05],[-.30,2.04],[-.28,2.03],[-.16,2.05],[-.15,2.05],[.29,2.03],[.32,2.03],[-.09,2.00],[-.06,2.00],[-.01,1.99],[.19,1.99],[-.34,1.97],[-.17,1.96],[-.05,1.97],[.11,1.97],[.20,1.96],[.22,1.94],[.29,1.96],[-.36,1.90],[-.14,1.91],[-.03,1.92],[.20,1.92],[.21,1.90],[.24,1.89],[.32,1.91],[-.33,1.87],[.37,1.87],[.06,1.86],[-.30,1.84],[.32,1.84],[.26,1.82],[.37,1.82],[-.22,1.80],[-.15,1.78],[-.12,1.76],[-.14,1.79],[-.06,1.78],[.07,1.80],[.17,1.78],[.21,1.78],[.08,1.74],[.09,1.76],[-.34,1.71],[-.28,1.71],[-.26,1.72],[.16,1.71],[.07,1.69],[.16,1.69],[-.18,1.71],[.02,1.71],[.40,1.71],[-.09,1.69],[.12,1.68],[.36,1.68],[-.39,1.68],[-.05,1.67],[.01,1.66],[.06,1.66],[-.28,1.64],[-.17,1.64],[-.06,1.65],[.27,1.64],[.34,1.64],[.17,1.63],[.05,1.62],[.09,1.61],[.28,1.62],[.29,1.60],[-.34,1.57],[-.28,1.57],[-.21,1.57],[.10,1.55],[.17,1.58],[.14,1.55],[.28,1.55],[.36,1.56],[-.34,1.53],[-.39,1.50],[.08,1.53],[.08,1.50],[.15,1.53],[.21,1.52],[-.24,1.48],[-.04,1.50],[-.03,1.50],[.03,1.47],[-.39,1.46],[-.37,1.44],[.37,1.42],[-.16,1.43],[-.07,1.41],[.08,1.42],[.28,1.40],[.31,1.39],[-.30,1.39],[-.27,1.36],[-.03,1.39],[.32,1.38],[.05,1.36],[.05,1.35],[.26,1.35],[.38,1.36],[.28,1.33],[.12,1.30],[.06,1.30],[-.27,1.30],[.16,1.29],[.37,1.27],[-.39,1.26],[.07,1.25],[.27,1.26],[-.33,1.23],[-.17,1.23],[-.16,1.24],[.16,1.23],[.12,1.22],[.09,1.20],[.40,1.24],[.38,1.21],[-.24,1.19],[-.12,1.21],[.10,1.17],[.06,1.16],[-.05,1.17],[.14,1.16],[.29,1.15],[.33,1.15],[.35,1.15],[.37,1.15],[.22,1.14],[.24,1.13],[-.37,1.10],[-.35,1.10],[-.05,1.10],[.05,1.11],[.31,1.11],[-.11,1.09],[-.05,1.09],[.14,1.09],[.38,1.10],[-.39,1.05],[-.37,1.05],[.11,1.03],[.33,1.05],[-.05,1.04],[.24,1.02],[-.37,1.02],[-.35,1.01],[-.35,1.00],[-.25,.99],[-.06,.97],[-.34,.91],[-.06,.90],[-.26,.87],[-.01,.87],[.20,.93],[-.03,.83],[.22,.80],[.21,.79],[.19,.76],[.23,.63]];

const gPoints0 = [[.02,3.24],[-.36,2.94],[.39,3.02],[.39,2.87],[-.11,2.88],[-.04,2.88],[.06,2.87],[.19,2.87],[-.11,2.83],[-.06,2.73],[-.06,2.71],[-.07,2.67],[.35,2.67],[-.15,2.65],[-.16,2.62],[.11,2.62],[.25,2.63],[-.11,2.59],[-.05,2.55],[-.30,2.55],[-.06,2.49],[-.35,2.48],[.16,2.47],[-.35,2.45],[.25,2.47],[.09,2.46],[.14,2.44],[.29,2.45],[-.37,2.43],[-.36,2.41],[-.05,2.41],[-.20,2.41],[.29,2.41],[.38,2.37],[-.19,2.33],[.24,2.36],[.22,2.33],[.04,2.30],[.10,2.30],[.36,2.30],[-.37,2.29],[.34,2.27],[.01,2.28],[-.37,2.24],[-.30,2.25],[-.38,2.22],[.10,2.24],[.15,2.23],[.07,2.21],[.12,2.20],[.18,2.21],[-.30,2.17],[-.28,2.18],[-.07,2.19],[-.01,2.17],[.15,2.16],[-.28,2.15],[-.18,2.14],[-.38,2.12],[-.30,2.11],[-.04,2.13],[-.02,2.10],[.13,2.12],[.23,2.09],[.27,2.09],[-.22,2.08],[-.14,2.07],[-.08,2.07],[-.10,2.03],[.16,2.04],[-.39,2.02],[-.29,2.02],[-.11,2.02],[-.08,2.02],[-.04,2.01],[.15,2.01],[.36,2.00],[-.36,1.96],[-.34,1.94],[-.12,1.94],[-.15,1.93],[-.18,1.92],[-.32,1.92],[-.31,1.90],[-.10,1.90],[.05,1.90],[.36,1.94],[-.33,1.88],[-.24,1.89],[-.27,1.86],[-.12,1.86],[-.08,1.85],[-.10,1.81],[-.38,1.81],[-.36,1.82],[-.04,1.79],[.0,1.76],[.27,1.81],[.30,1.80],[.25,1.78],[.03,1.75],[-.01,1.74],[.05,1.72],[-.28,1.72],[-.11,1.72],[.07,1.68],[.15,1.68],[.21,1.68],[-.36,1.69],[-.35,1.66],[.04,1.65],[.28,1.65],[.26,1.65],[-.13,1.65],[-.05,1.62],[.05,1.58],[-.30,1.56],[-.26,1.56],[-.23,1.56],[-.19,1.50],[.30,1.47],[.30,1.46],[-.21,1.46],[-.30,1.45],[-.07,1.45],[.04,1.44],[.16,1.41],[.18,1.40],[.29,1.40],[-.37,1.37],[-.15,1.38],[.30,1.36],[.35,1.31],[-.03,1.33],[.0,1.36],[.17,1.30],[-.31,1.28],[.05,1.28],[.30,1.27],[-.07,1.22],[-.03,1.22],[.36,1.18],[.28,1.15],[.38,1.14],[-.11,1.14],[.16,1.11],[.29,1.0],[-.18,.83],[-.26,.79],[0,.64],[-.01,.60],[.13,.64],[-.22,.50],[0,.50]];
const gPoints1 = [[.19,3.29],[-.40,2.87],[-.15,2.82],[.29,2.82],[.07,2.73],[.05,2.73],[-.15,2.69],[-.15,2.67],[.33,2.69],[.35,2.63],[.13,2.62],[0,2.59],[.40,2.56],[-.20,2.48],[.19,2.46],[-.34,2.43],[.31,2.43],[0,2.40],[-.13,2.35],[-.03,2.32],[.0,2.32],[.03,2.30],[-.30,2.29],[.34,2.27],[.38,2.24],[.13,2.24],[-.08,2.17],[.11,2.15],[.19,2.14],[.27,2.13],[.0,2.13],[-.39,2.10],[.27,2.12],[-.08,2.05],[-.15,2.02],[.35,1.97],[.38,1.96],[.36,1.96],[.33,1.94],[.03,1.92],[.07,1.90],[.3,1.89],[-.24,1.89],[-.21,1.88],[-.20,1.86],[-.01,1.86],[.11,1.80],[.09,1.78],[.07,1.77],[.24,1.81],[.23,1.80],[.36,1.77],[-.20,1.73],[-.08,1.75],[-.05,1.72],[-.04,1.69],[.24,1.70],[.32,1.71],[-.12,1.66],[-.28,1.60],[-.17,1.55],[-.15,1.53],[-.01,1.54],[.09,1.54],[.18,1.55],[-.21,1.48],[.29,1.47],[-.11,1.46],[-.01,1.43],[-.12,1.40],[.03,1.38],[.00,1.33],[.02,1.31],[.14,1.31],[.22,1.32],[-.24,1.25],[-.10,1.19],[-.30,1.10],[.17,1.02],[.13,.99],[-.35,.70]];
const gPoints2 = [[0,3.87],[.30,3.87],[-.29,3.33],[.16,3.34],[-.13,3.22],[.02,3.16],[.35,3.15],[-.10,3.10],[.0,3.08],[.04,2.99],[.22,2.96],[.34,3.02],[-.33,2.95],[-.31,2.93],[-.04,2.92],[.37,2.93],[.30,2.83],[-.11,2.80],[-.38,2.77],[-.22,2.76],[-.34,2.73],[.15,2.73],[-.25,2.70],[-.07,2.67],[.14,2.67],[.03,2.66],[.31,2.65],[-.15,2.61],[.23,2.57],[.37,2.54],[-.29,2.49],[-.05,2.50],[-.21,2.47],[-.17,2.44],[.22,2.46],[-.23,2.40],[-.07,2.37],[-.39,2.29],[.08,2.29],[-.08,2.27],[.23,2.27],[.38,2.27],[.11,2.23],[.12,2.20],[-.18,2.23],[.10,2.18],[-.36,2.15],[-.16,2.15],[-.07,2.14],[-.09,2.13],[.17,2.15],[.30,2.16],[.34,2.13],[.22,2.11],[.32,2.06],[-.02,2.09],[.31,2.03],[.33,2.00],[.40,2.03],[-.25,2.00],[.37,1.97],[-.15,2.00],[-.06,1.94],[.19,1.95],[-.24,1.92],[-.14,1.92],[-.13,1.90],[-.34,1.90],[-.33,1.88],[.05,1.89],[-.02,1.88],[.15,1.85],[.35,1.83],[-.20,1.81],[.0,1.75],[.13,1.78],[.15,1.78],[.04,1.71],[-.34,1.71],[-.22,1.72],[-.14,1.72],[-.06,1.70],[-.13,1.66],[-.14,1.65],[.20,1.68],[.22,1.67],[.33,1.60],[.33,1.55],[-.02,1.55],[.13,1.53],[.18,1.48],[.17,1.47],[-.34,1.45],[-.16,1.39],[.01,1.27],[.13,1.33],[-.36,1.26],[-.19,.83],[-.16,.81]];
const gPoints3 = [[-.02,2.58],[-.26,2.39],[.30,2.19],[-.37,1.82],[-.17,1.54],[.24,1.48]];

const hPoints0 = [[.01,3.53],[-.01,3.53],[-.01,2.50],[-.03,2.50],[0,1.88],[-.31,1.88],[0,1.47],[.06,1.47],[0,1.05],[.27,1.05],[.0,1.03],[.04,1.02],[0,1.00],[.18,1.00],[-.02,.82],[-.01,.85],[.33,.85],[-.25,.67],[0,.67],[.18,.67],[0,.60],[.33,.60],[.09,.60],[0,.57],[-.19,.57],[0,.54],[.34,.53],[.39,.46],[.38,.46],[0,.40],[-.26,.37],[-.27,.36],[-.35,.32],[.06,.31],[.09,.30],[.13,.30],[-.19,.30],[-.28,.29],[.31,.31],[-.03,.28],[-.08,.26],[.37,.25],[-.31,.25],[-.36,.24],[-.34,.26],[.34,.23],[.38,.22],[-.18,.24],[.10,.23],[.22,.22],[-.20,.21],[.40,.21],[.07,.21],[-.11,.20],[.14,.20],[.30,.21],[-.38,.18],[-.28,.19],[-.10,.18],[-.04,.19],[.03,.18],[.21,.18],[.38,.17],[.40,.18],[-.34,.16],[-.26,.15],[-.19,.16],[.06,.16],[.25,.16],[.33,.16],[-.38,.13],[-.31,.13],[-.14,.14],[-.02,.13],[.12,.13],[.20,.13],[.36,.14],[-.35,.11],[-.24,.11],[-.07,.11],[.02,.11],[.15,.11],[.28,.11],[.37,.11],[-.30,.09],[-.22,.09],[-.13,.09],[.05,.09],[.10,.09],[.22,.09],[.31,.09],[-.34,.07],[-.26,.07],[-.17,.07],[-.05,.07],[.01,.07],[.17,.07],[.26,.07],[.35,.07],[-.39,.05],[-.36,.05],[-.29,.05],[-.20,.05],[-.10,.05],[-.02,.05],[.07,.05],[.13,.05],[.21,.05],[.30,.05],[.38,.05],[-.38,.03],[-.33,.03],[-.25,.03],[-.18,.03],[-.12,.03],[-.06,.03],[.02,.03],[.10,.03],[.18,.03],[.25,.03],[.33,.03],[.38,.03],[-.23,.01],[-.20,.0],[-.14,.01],[-.08,.0],[-.04,.01],[.05,.01],[.08,.0],[.15,.01],[.19,0],[.28,.01],[.32,0],[.39,.01],[.41,.0]];
const hPoints1 = [[0,2.61],[.24,2.61],[0,2.32],[.16,2.32],[0,1.88],[.33,1.88],[0,1.78],[.15,1.78],[0,1.68],[.04,1.68],[0,1.57],[.27,1.56],[0,1.53],[-.37,1.53],[-.24,1.35],[0,1.35],[-.06,1.10],[0,1.10],[-.25,.87],[0,.87],[-.14,.86],[.01,.87],[.20,.87],[.22,.60],[.33,.60],[-.05,.54],[-.39,.53],[-.39,.47],[-.28,.50],[.31,.50],[-.2,.44],[.11,.40],[-.16,.37],[-.25,.36],[.37,.36],[.04,.34],[.07,.31],[-.03,.32],[.06,.28],[.04,.24],[.01,.23],[.12,.23],[-.14,.23],[.08,.25],[-.39,.18],[-.28,.17],[-.10,.16],[.38,.17],[.36,.12],[.10,.12],[.01,.12],[-.35,.13],[-.29,.13],[-.13,.13],[.25,.14],[.29,.14],[-.04,.13],[-.25,.11],[-.16,.11],[.15,.10],[.35,.10],[-.08,.10],[.32,.09],[-.38,.05],[-.34,.05],[-.28,.05],[-.23,.06],[-.12,.06],[-.05,.06],[.05,.07],[.12,.06],[.35,.06],[-.40,.03],[-.38,.02],[-.31,.03],[-.25,.01],[-.21,.03],[-.18,.01],[-.07,.02],[-.03,.02],[.01,.01],[.09,.02],[.14,.01],[.26,.01],[.32,.02],[.36,.02]];
const hPoints2 = [[0,4.05],[.11,4.05],[0,3.82],[.36,3.82],[-.02,2.84],[0,2.85],[.2,2.86],[-.31,2.55],[0,2.55],[-.31,2.45],[0,2.45],[0,1.37],[.32,1.37],[0,1.33],[.22,1.33],[.16,1.29],[0,1.29],[-.29,1.0],[-.28,.99],[-.10,1.04],[-.10,.87],[-.08,.88],[.32,.82],[.29,.75],[-.40,.73],[.31,.70],[-.10,.67],[-.17,.65],[.14,.66],[-.32,.63],[-.17,.52],[-.09,.55],[.05,.55],[.05,.50],[.25,.47],[-.09,.46],[-.09,.44],[.28,.42],[-.26,.42],[-.1,.41],[.06,.36],[-.25,.36],[.25,.36],[-.13,.34],[-.09,.36],[.18,.32],[.19,.31],[-.37,.33],[.16,.30],[-.14,.31],[-.03,.30],[.36,.24],[-.32,.25],[-.2,.21],[.25,.20],[-.01,.15],[-.10,.18],[-.12,.19],[.2,.17],[.09,.17],[.1,.16],[.22,.17],[-.3,.16],[-.25,.15],[.31,.17],[-.19,.13],[-.06,.13],[.06,.12],[.24,.13],[.33,.13],[-.37,.10],[-.33,.09],[-.27,.08],[-.1,.09],[.12,.09],[.3,.09],[.37,.09],[-.37,.06],[-.25,.06],[-.18,.06],[-.05,.06],[.14,.06],[.25,.05],[.36,.06],[-.3,.03],[-.23,.03],[-.15,.03],[-.11,.05],[-.04,.03],[.02,.05],[.02,.02],[.04,.01],[.26,.02],[.33,.01],[.36,.02],[.38,.0],[.37,.03]];
const hPoints3 = [[-.13,.71],[.24,.50],[-.36,.26],[.22,.14],[.14,.12],[.32,.10]];

const iPoints0 = [[.03,3.33],[.05,3.33],[-.07,2.97],[-.02,2.96],[-.31,2.87],[.37,2.85],[.39,2.80],[-.37,2.74],[.26,2.75],[.26,2.69],[.07,2.66],[.03,2.65],[-.25,2.62],[-.18,2.56],[-.18,2.57],[.0,2.49],[-.19,2.50],[-.2,2.49],[.05,2.45],[.11,2.42],[-.35,2.39],[-.34,2.39],[-.03,2.37],[-.04,2.39],[.25,2.34],[-.12,2.35],[.16,2.33],[.14,2.30],[.09,2.30],[.13,2.26],[.1,2.26],[-.22,2.28],[-.23,2.28],[.26,2.26],[-.36,2.26],[-.21,2.23],[.04,2.20],[-.15,2.19],[-.13,2.20],[.21,2.20],[.3,2.17],[.37,2.19],[.3,2.16],[.31,2.15],[.07,2.12],[.19,2.13],[-.33,2.03],[-.08,2.06],[.22,2.03],[.32,2.03],[.03,2.01],[.01,2.0],[.31,2.0],[.32,1.98],[-.37,1.98],[-.31,1.94],[-.2,1.94],[-.16,1.94],[.0,1.93],[.16,1.93],[.2,1.94],[.22,1.91],[.07,1.96],[.34,1.96],[-.37,1.94],[-.35,1.91],[-.31,1.90],[.16,1.91],[.29,1.90],[.32,1.90],[.04,1.86],[-.39,1.85],[-.3,1.85],[-.08,1.83],[.14,1.82],[.25,1.81],[-.37,1.78],[-.3,1.78],[-.16,1.80],[-.08,1.78],[.03,1.77],[.06,1.78],[-.35,1.75],[-.36,1.73],[.14,1.76],[.37,1.70],[.39,1.71],[.05,1.70],[.33,1.72],[-.1,1.70],[-.06,1.69],[-.03,1.69],[-.38,1.66],[-.32,1.67],[-.27,1.67],[.15,1.66],[.34,1.66],[.33,1.64],[-.37,1.63],[.32,1.63],[.16,1.58],[-.12,1.60],[-.1,1.58],[-.07,1.57],[-.01,1.60],[.04,1.54],[.18,1.55],[.22,1.55],[.36,1.56],[-.31,1.54],[.03,1.51],[.15,1.53],[-.01,1.44],[.32,1.47],[-.37,1.40],[.34,1.43],[.37,1.42],[-.38,1.38],[-.22,1.38],[-.07,1.36],[.19,1.38],[.24,1.38],[.33,1.29],[.08,1.31],[.06,1.29],[.28,1.27],[-.39,1.24],[-.27,1.27],[-.17,1.28],[.36,1.27],[.28,1.25],[.34,1.24],[.12,1.23],[.18,1.21],[.27,1.20],[-.02,1.19],[.4,1.20],[.23,1.18],[.23,1.17],[-.18,1.17],[-.17,1.17],[.35,1.16],[.32,1.11],[.37,1.11],[.05,1.12],[.12,1.10],[-.34,1.09],[-.24,1.05],[-.39,1.05],[.09,1.03],[.08,1.02],[.01,1.04],[-.26,1.02],[.21,1.02],[.28,1.03],[-.22,.99],[.29,.92],[-.05,.90],[-.29,.87],[-.11,.87],[.08,.89],[.31,.82],[.36,.79],[.15,.75],[-.05,.63]];
const iPoints1 = [[-.02,3.45],[-.03,3.22],[-.02,3.22],[-.24,2.93],[-.1,2.91],[.1,2.73],[.08,2.65],[-.11,2.60],[.19,2.56],[.23,2.47],[-.16,2.42],[-.15,2.42],[-.12,2.38],[.16,2.33],[-.33,2.31],[-.33,2.32],[-.27,2.14],[.06,2.13],[.18,2.14],[.27,2.11],[-.05,2.09],[-.08,2.05],[-.05,2.04],[-.03,2.04],[-.09,2.03],[.2,2.03],[.27,2.00],[-.33,2.0],[-.09,2.00],[.26,1.98],[-.23,1.94],[-.18,1.95],[.13,1.95],[.05,1.90],[-.16,1.84],[.2,1.82],[-.37,1.80],[-.37,1.79],[-.3,1.77],[-.38,1.72],[-.04,1.74],[.0,1.73],[-.11,1.69],[0,1.71],[-.37,1.70],[.08,1.67],[.13,1.65],[.18,1.64],[.2,1.64],[.31,1.63],[.3,1.64],[.38,1.65],[.0,1.62],[.07,1.63],[-.19,1.59],[-.02,1.59],[.3,1.58],[.13,1.54],[.03,1.52],[-.25,1.50],[.3,1.48],[.14,1.44],[.27,1.45],[-.28,1.45],[.15,1.41],[.25,1.43],[-.07,1.41],[-.1,1.38],[-.16,1.35],[-.39,1.36],[-.3,1.36],[.36,1.36],[-.19,1.33],[-.36,1.28],[.11,1.29],[-.28,1.28],[.31,1.27],[-.26,1.25],[.02,1.22],[.2,1.19],[-.25,1.17],[-.15,1.16],[-.1,1.15],[.02,1.14],[.03,1.13],[-.02,1.12],[.01,1.10],[-.25,1.06],[.14,1.06]];
const iPoints2 = [[-.07,3.21],[.35,3.03],[.13,3.01],[.21,2.84],[-.05,2.77],[-.19,2.74],[-.15,2.74],[-.33,2.69],[-.29,2.67],[-.23,2.68],[-.23,2.67],[.11,2.66],[.14,2.66],[.1,2.56],[-.17,2.58],[-.32,2.54],[-.26,2.52],[-.33,2.50],[.09,2.50],[-.36,2.42],[.37,2.41],[-.34,2.37],[-.25,2.34],[.01,2.37],[.02,2.31],[-.11,2.25],[.26,2.25],[.05,2.24],[-.22,2.21],[.22,2.18],[.26,2.18],[.34,2.16],[-.38,2.13],[-.37,2.14],[.22,2.13],[-.23,2.08],[.27,2.05],[.25,2.04],[.05,2.05],[.09,2.05],[-.06,2.03],[-.33,2.01],[.17,1.97],[-.28,1.98],[.06,1.94],[.07,1.93],[.17,1.94],[-.32,1.94],[-.2,1.94],[-.15,1.92],[-.16,1.91],[-.1,1.87],[-.02,1.87],[-.03,1.85],[.03,1.83],[-.1,1.86],[.19,1.85],[.09,1.79],[-.03,1.80],[-.02,1.76],[.14,1.77],[.01,1.74],[-.15,1.74],[-.29,1.75],[-.4,1.72],[-.31,1.73],[-.16,1.72],[.26,1.70],[-.16,1.64],[-.35,1.70],[-.32,1.69],[-.14,1.66],[.08,1.66],[.07,1.66],[-.13,1.65],[-.33,1.60],[.0,1.62],[-.29,1.56],[-.15,1.53],[-.11,1.52],[.2,1.54],[.17,1.52],[.17,1.50],[.33,1.48],[.27,1.46],[-.38,1.46],[-.33,1.49],[-.1,1.45],[-.11,1.44],[-.03,1.42],[.05,1.39],[-.29,1.38],[.21,1.40],[-.12,1.36],[-.2,1.31],[-.03,1.29],[-.02,1.24],[-.05,1.18],[.35,1.22],[-.17,1.19],[.18,1.14],[.19,1.11],[.25,1.08],[-.04,1.05],[.01,1.03],[.03,1.0],[-.31,.98],[-.29,.87],[-.22,.81],[-.21,.79]];
const iPoints3 = [[.0,3.22],[.01,3.22],[.29,2.11],[.15,2.09],[.03,2.02],[.38,1.71],[.01,1.09]];

// ---- panel layout (placement on the page, not data) ----
const panels = [
 {id:'a',l:56.1,r:452.5,t:25,b:475,cat0:164,step:179.8,yRef:1,yPx:395,yUnit:122,half:.376,ticks:ticksRcor1,cats:categoriesAge,catPx:[164.3,347.1],catY:492,colors:twoColors,q1:aQ1,med:aMedian,q3:aQ3,low:aLow,high:aHigh,pts:[aPoints0,aPoints1],keyX:461.3,keyW:13.4,keyYs:[244,261.7],keyH:9.3},
 {id:'b',l:574.9,r:972.5,t:29.3,b:480,cat0:683.5,step:180.5,yRef:0,yPx:459.3,yUnit:101.3,half:.377,ticks:ticksRcor2,cats:categoriesAge,catPx:[684.5,867],catY:496.7,colors:twoColors,q1:bQ1,med:bMedian,q3:bQ3,low:bLow,high:bHigh,pts:[bPoints0,bPoints1],keyX:990.4,keyW:13.7,keyYs:[249,267],keyH:9.3},
 {id:'c',l:1107.8,r:1504.2,t:30,b:479.3,cat0:1213.4,step:179.9,yRef:1,yPx:405.7,yUnit:144.5,half:.375,ticks:ticksRcor3,cats:categoriesAge,catPx:[1215.4,1396.6],catY:497.5,colors:twoColors,q1:cQ1,med:cMedian,q3:cQ3,low:cLow,high:cHigh,pts:[cPoints0,cPoints1],keyX:1519.4,keyW:13.2,keyYs:[249.3,267],keyH:9.4},
 {id:'d',l:56.1,r:445.6,t:529.3,b:978.3,cat0:162.2,step:176.7,yRef:1,yPx:898.3,yUnit:121.7,half:.376,ticks:ticksRcor1,cats:categoriesSex,catPx:[160.4,334.7],catY:995.7,colors:twoColors,q1:dQ1,med:dMedian,q3:dQ3,low:dLow,high:dHigh,pts:[dPoints0,dPoints1],keyX:462.5,keyW:13,keyYs:[747.7,765.7],keyH:9.6},
 {id:'e',l:578.7,r:972.2,t:527.3,b:981,cat0:685.5,step:178.8,yRef:0,yPx:960.3,yUnit:101.9,half:.376,ticks:ticksRcor2,cats:categoriesSex,catPx:[688.9,864.7],catY:999,colors:twoColors,q1:eQ1,med:eMedian,q3:eQ3,low:eLow,high:eHigh,pts:[ePoints0,ePoints1],keyX:990.1,keyW:13.5,keyYs:[748.7,766],keyH:9.6},
 {id:'f',l:1116.7,r:1502.1,t:533.7,b:977.3,cat0:1221.6,step:174.8,yRef:1,yPx:904.3,yUnit:142.7,half:.375,ticks:ticksRcor3,cats:categoriesSex,catPx:[1225.2,1397],catY:996,colors:twoColors,q1:fQ1,med:fMedian,q3:fQ3,low:fLow,high:fHigh,pts:[fPoints0,fPoints1],keyX:1519.4,keyW:13.8,keyYs:[750.7,768],keyH:9.4},
 {id:'g',l:45.8,r:456.3,t:1046,b:1488.3,cat0:104,step:97.8,yRef:1,yPx:1409.3,yUnit:119.7,half:.375,ticks:ticksRcor1,cats:categoriesStage,catPx:[104,202.2,299.6,395.4],catY:1505.7,colors:fourColors,q1:gQ1,med:gMedian,q3:gQ3,low:gLow,high:gHigh,pts:[gPoints0,gPoints1,gPoints2,gPoints3],keyX:474.2,keyW:13.4,keyYs:[1244.7,1261.7,1278.7,1295.7],keyH:9},
 {id:'h',l:569.2,r:984.4,t:1046.3,b:1493.3,cat0:628.7,step:98.8,yRef:0,yPx:1473,yUnit:100.4,half:.376,ticks:ticksRcor2,cats:categoriesStage,catPx:[629.1,727.5,826.4,923.2],catY:1511,colors:fourColors,q1:hQ1,med:hMedian,q3:hQ3,low:hLow,high:hHigh,pts:[hPoints0,hPoints1,hPoints2,hPoints3],keyX:1002.9,keyW:13.2,keyYs:[1247,1264.3,1281.7,1298.7],keyH:9},
 {id:'i',l:1106.1,r:1521.5,t:1045.3,b:1492.3,cat0:1165.2,step:99.05,yRef:1,yPx:1419.7,yUnit:144,half:.375,ticks:ticksRcor3,cats:categoriesStage,catPx:[1165.9,1262.3,1363,1463.1],catY:1510,colors:fourColors,q1:iQ1,med:iMedian,q3:iQ3,low:iLow,high:iHigh,pts:[iPoints0,iPoints1,iPoints2,iPoints3],keyX:1539.8,keyW:12.9,keyYs:[1247,1264.3,1281.7,1299],keyH:9}
];

const NS = 'http://www.w3.org/2000/svg';
function mk(parent, tag, attrs) {
  const el = document.createElementNS(NS, tag);
  for (const k in attrs) el.setAttribute(k, attrs[k]);
  parent.appendChild(el);
  return el;
}

function drawPanel(p) {
  const root = document.getElementById('plots');
  const g = mk(root, 'g', {});
  
  
  const yScale = v => p.yPx - (v - p.yRef) * p.yUnit;
  const xScale = c => p.cat0 + c * p.step;

  const bg = mk(g, 'rect', {x:p.l, y:p.t, width:p.r - p.l, height:p.b - p.t, fill:'#EBEBEB'});
  
  

  // minor horizontal grid (half steps that fall inside the panel)
  for (let v = -0.5; v <= 4.5; v += 1) {
    const y = yScale(v);
    if (y < p.t + 2 || y > p.b - 2) continue;
    const ln = mk(g, 'line', {x1:p.l, x2:p.r, y1:y, y2:y, stroke:'#fff', 'stroke-width':.7});
    
    
  }
  // major grid and y ticks
  p.ticks.forEach(v => {
    const y = yScale(v);
    const ln = mk(g, 'line', {x1:p.l, x2:p.r, y1:y, y2:y, stroke:'#fff', 'stroke-width':1.3});
    
    
    const tk = mk(g, 'line', {x1:p.l - 2, x2:p.l, y1:y, y2:y, stroke:'#444', 'stroke-width':.8});
    
    
    const tx = mk(g, 'text', {x:p.l - 2.5, y:y + 6, 'text-anchor':'end', 'font-size':16, fill:'#555'});
    
    
    tx.textContent = String(v);
  });
  // categories
  p.cats.forEach((c, i) => {
    const x = xScale(i);
    const ln = mk(g, 'line', {x1:x, x2:x, y1:p.t, y2:p.b, stroke:'#fff', 'stroke-width':1.3});
    
    
    const tk = mk(g, 'line', {x1:x, x2:x, y1:p.b, y2:p.b + 2.5, stroke:'#444', 'stroke-width':.8});
    
    
    const tx = mk(g, 'text', {x:p.catPx[i], y:p.catY, 'text-anchor':'middle', 'font-size':16, fill:'#555'});
    
    
    tx.textContent = c;
  });
  // boxes
  p.cats.forEach((c, i) => {
    const x = xScale(i), hw = p.half * p.step;
    const wh = mk(g, 'line', {x1:x, x2:x, y1:yScale(p.q3[i]), y2:yScale(p.high[i]), stroke:'#444', 'stroke-width':1.3});
    
    
    const wl = mk(g, 'line', {x1:x, x2:x, y1:yScale(p.q1[i]), y2:yScale(p.low[i]), stroke:'#444', 'stroke-width':1.3});
    
    
    const bx = mk(g, 'rect', {x:x - hw, y:yScale(p.q3[i]), width:2 * hw, height:yScale(p.q1[i]) - yScale(p.q3[i]), fill:p.colors[i], stroke:'#444', 'stroke-width':1});
    
    
    const md = mk(g, 'line', {x1:x - hw, x2:x + hw, y1:yScale(p.med[i]), y2:yScale(p.med[i]), stroke:'#333', 'stroke-width':2});
    
    
  });
  // points
  p.pts.forEach((list, i) => {
    list.forEach(pt => {
      const c = mk(g, 'circle', {cx:xScale(i + pt[0]), cy:yScale(pt[1]), r:2.5, fill:pt[0] === 0 ? '#2a2a2a' : '#000'});
      
      
    });
  });
  // legend keys
  p.keyYs.forEach((ky, i) => {
    const isA = p.id === 'a';
    const cx = p.keyX + p.keyW / 2 + (isA ? 9.3 : 0), cy = ky + p.keyH / 2;
    const back = mk(g, 'rect', {x:p.keyX - 1.5, y:ky - 3, width:p.keyW + 3 + (isA ? 12 : 0), height:p.keyH + 6, fill:'#F2F2F2'});
    
    
    const kl = mk(g, 'line', {x1:cx, x2:cx, y1:ky - 3, y2:ky + p.keyH + 3, stroke:'#444', 'stroke-width':1, 'stroke-dasharray':isA ? '3 2' : 'none'});
    
    
    const kr = mk(g, 'rect', {x:p.keyX, y:ky, width:p.keyW, height:p.keyH, fill:p.colors[i], stroke:'#444', 'stroke-width':1});
    
    
    if (isA) {
      const kh = mk(g, 'line', {x1:p.keyX + p.keyW, x2:cx + 5, y1:cy, y2:cy, stroke:'#222', 'stroke-width':1});
      
      
    }
    const kd = mk(g, 'circle', {cx:cx, cy:cy, r:2.3, fill:'#000'});
    
    
  });
}

panels.forEach(drawPanel);
</script>
</body>
</html>
